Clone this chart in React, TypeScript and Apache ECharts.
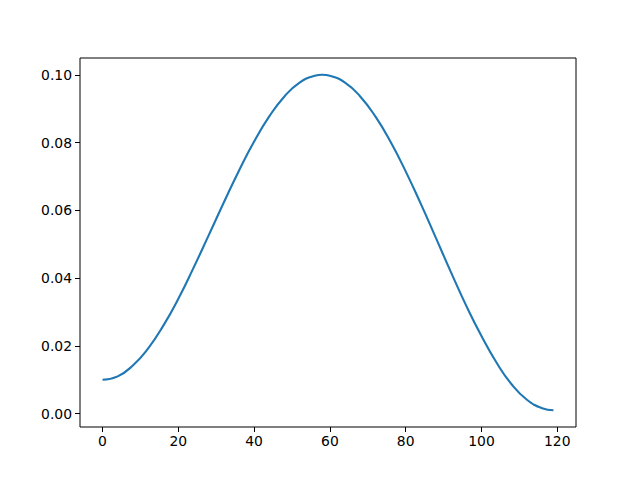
import React, { useEffect, useRef } from "react";
import * as echarts from "echarts";

const xValues = [0, 4, 8, 12, 16, 20, 24, 28, 32, 36, 40, 44, 48, 52, 56, 58, 60, 64, 68, 72, 76, 80, 84, 88, 92, 96, 100, 104, 108, 112, 116, 119];
const yValues = [0.0100, 0.0110, 0.0142, 0.0192, 0.0259, 0.0339, 0.0430, 0.0526, 0.0623, 0.0717, 0.0803, 0.0877, 0.0936, 0.0977, 0.0997, 0.1000, 0.0997, 0.0977, 0.0936, 0.0877, 0.0802, 0.0715, 0.0619, 0.0518, 0.0416, 0.0318, 0.0229, 0.0150, 0.0086, 0.0041, 0.0016, 0.0010];
const xTicks = [0, 20, 40, 60, 80, 100, 120];
const yTicks = [0, 0.02, 0.04, 0.06, 0.08, 0.1];

export default function App() {
  const ref = useRef<HTMLDivElement>(null);
  useEffect(() => {
    if (!ref.current) return;
    const chart = echarts.init(ref.current, null, { renderer: "svg" });
    const font = "DejaVu Sans";
    chart.setOption({
      animation: false,
      backgroundColor: "#fff",
      grid: {
        left: 80,
        right: 64,
        top: 58,
        bottom: 53,
        show: true,
        borderColor: "#000",
        borderWidth: 1,
        backgroundColor: "transparent",
      },
      xAxis: {
        type: "value",
        min: -5.95,
        max: 124.95,
        axisLine: { show: false, onZero: false },
        splitLine: { show: false },
        axisTick: { show: true, length: 5, inside: false, customValues: xTicks, lineStyle: { color: "#000", width: 1 } },
        axisLabel: {
          customValues: xTicks,
          color: "#000",
          fontFamily: font,
          fontSize: 13.9,
          margin: 7,
          formatter: (v: number) => String(v),
        },
      },
      yAxis: {
        type: "value",
        min: -0.00395,
        max: 0.10495,
        axisLine: { show: false, onZero: false },
        splitLine: { show: false },
        axisTick: { show: true, length: 5, inside: false, customValues: yTicks, lineStyle: { color: "#000", width: 1 } },
        axisLabel: {
          customValues: yTicks,
          color: "#000",
          fontFamily: font,
          fontSize: 13.9,
          margin: 8,
          formatter: (v: number) => v.toFixed(2),
        },
      },
      series: [
        {
          type: "line",
          data: xValues.map((x, i) => [x, yValues[i]]),
          smooth: true,
          showSymbol: false,
          lineStyle: { color: "#1f77b4", width: 2.1 },
          itemStyle: { color: "#1f77b4" },
        },
      ],
    });
    return () => chart.dispose();
  }, []);
  return <div ref={ref} style={{ position: "fixed", left: 0, top: 0, width: 640, height: 480 }} />;
}
